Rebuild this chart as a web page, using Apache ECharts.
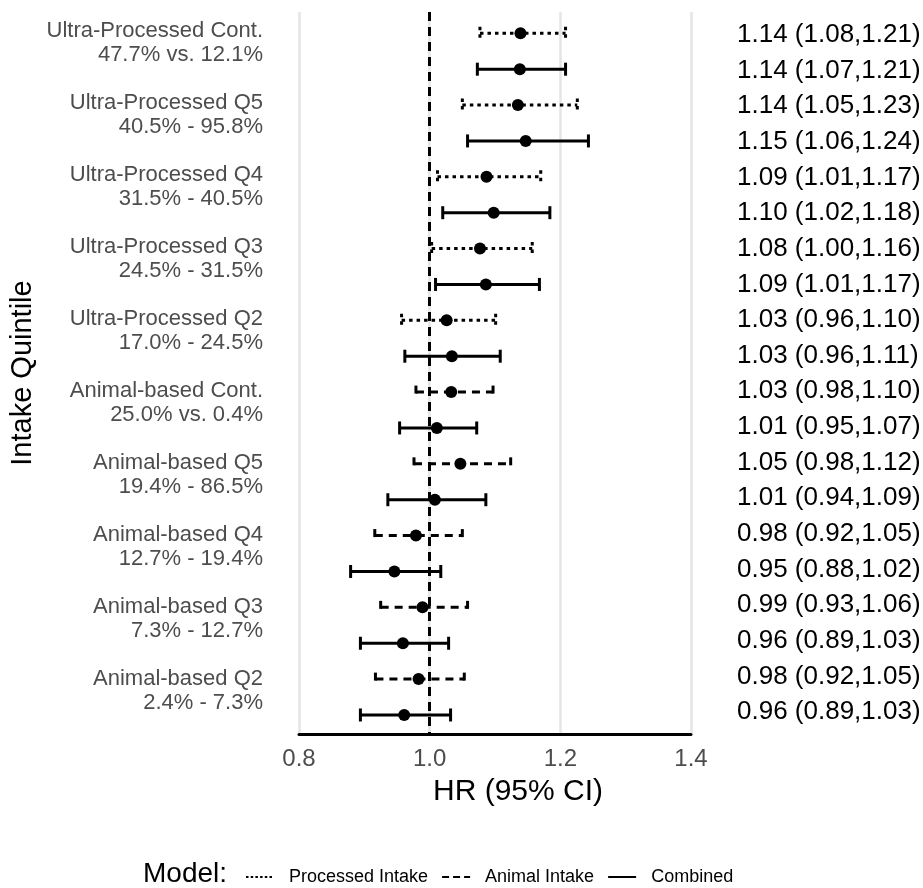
<!DOCTYPE html>
<html>
<head>
<meta charset="utf-8">
<script src="https://cdn.jsdelivr.net/npm/echarts@6/dist/echarts.min.js"></script>
<style>html,body{margin:0;padding:0;background:#fff}#c{width:923px;height:888px}</style>
</head>
<body>
<div id="c"></div>
<script>
// Category labels (left), one per quintile group
const categories = [
  'Ultra-Processed Cont.\n47.7% vs. 12.1%',
  'Ultra-Processed Q5\n40.5% - 95.8%',
  'Ultra-Processed Q4\n31.5% - 40.5%',
  'Ultra-Processed Q3\n24.5% - 31.5%',
  'Ultra-Processed Q2\n17.0% - 24.5%',
  'Animal-based Cont.\n25.0% vs. 0.4%',
  'Animal-based Q5\n19.4% - 86.5%',
  'Animal-based Q4\n12.7% - 19.4%',
  'Animal-based Q3\n7.3% - 12.7%',
  'Animal-based Q2\n2.4% - 7.3%'
];
// Row models (two rows per category, top to bottom)
const rowModels = [
  'Processed Intake','Combined','Processed Intake','Combined','Processed Intake','Combined',
  'Processed Intake','Combined','Processed Intake','Combined',
  'Animal Intake','Combined','Animal Intake','Combined','Animal Intake','Combined',
  'Animal Intake','Combined','Animal Intake','Combined'
];
// Hazard ratios and 95% CI bounds
const hr = [1.139,1.138,1.135,1.147,1.087,1.098,1.077,1.086,1.026,1.034,
            1.033,1.011,1.047,1.008,0.979,0.946,0.989,0.959,0.983,0.961];
const lo = [1.077,1.073,1.050,1.058,1.012,1.020,1.003,1.009,0.957,0.962,
            0.979,0.954,0.976,0.936,0.916,0.879,0.925,0.894,0.917,0.894];
const hi = [1.208,1.208,1.226,1.243,1.170,1.184,1.157,1.168,1.101,1.108,
            1.097,1.072,1.124,1.086,1.050,1.017,1.058,1.029,1.053,1.032];
// Right-hand text labels
const rowLabels = [
  '1.14 (1.08,1.21)','1.14 (1.07,1.21)','1.14 (1.05,1.23)','1.15 (1.06,1.24)',
  '1.09 (1.01,1.17)','1.10 (1.02,1.18)','1.08 (1.00,1.16)','1.09 (1.01,1.17)',
  '1.03 (0.96,1.10)','1.03 (0.96,1.11)','1.03 (0.98,1.10)','1.01 (0.95,1.07)',
  '1.05 (0.98,1.12)','1.01 (0.94,1.09)','0.98 (0.92,1.05)','0.95 (0.88,1.02)',
  '0.99 (0.93,1.06)','0.96 (0.89,1.03)','0.98 (0.92,1.05)','0.96 (0.89,1.03)'
];
const xTicks = [0.8, 1.0, 1.2, 1.4];
const modelNames = ['Processed Intake','Animal Intake','Combined'];

const FONT = 'Liberation Sans, Arial, sans-serif';
const dashPlot = {'Processed Intake':[3.5,4], 'Animal Intake':[8,6], 'Combined':null};
const dashLegend = {'Processed Intake':[2.5,2.2], 'Animal Intake':[7,4], 'Combined':'solid'};

function renderBar(dash){
  return function(params, api){
    const y = api.value(2);
    const p1 = api.coord([api.value(0), y]);
    const p2 = api.coord([api.value(1), y]);
    const h = 6.5;
    const st = () => ({stroke:'#000', lineWidth:3, lineDash:dash, fill:null, lineCap:'butt'});
    return {type:'group', children:[
      {type:'line', shape:{x1:p1[0],y1:p1[1],x2:p2[0],y2:p2[1]}, style:st()},
      {type:'line', shape:{x1:p1[0],y1:p1[1]-h,x2:p1[0],y2:p1[1]+h}, style:st()},
      {type:'line', shape:{x1:p2[0],y1:p2[1]-h,x2:p2[0],y2:p2[1]+h}, style:st()}
    ]};
  };
}

const series = [];
modelNames.forEach(m => {
  series.push({type:'line', name:m, data:[], symbol:'none', legendIcon:'none', xAxisIndex:0, yAxisIndex:0,
    lineStyle:{color:'#000', width:3, type:dashLegend[m]}, itemStyle:{color:'#000'}});
});
modelNames.forEach(m => {
  const d = [];
  rowModels.forEach((rm, i) => { if (rm === m) d.push([lo[i], hi[i], i]); });
  series.push({type:'custom', name:m, xAxisIndex:0, yAxisIndex:0, data:d,
    renderItem:renderBar(dashPlot[m]), encode:{x:[0,1], y:2}, z:3, silent:true});
});
series.push({
  type:'scatter', name:'HR', xAxisIndex:0, yAxisIndex:0, symbolSize:12, z:5,
  itemStyle:{color:'#000', opacity:1},
  data: hr.map((v,i)=>[v,i]),
  markLine:{symbol:'none', silent:true, label:{show:false},
    lineStyle:{color:'#000', width:3, type:[9,6], opacity:1},
    data:[{xAxis:1.0}], z:2}
});

const chart = echarts.init(document.getElementById('c'), null, {renderer:'canvas'});
chart.setOption({
  animation:false,
  backgroundColor:'#fff',
  title:[
    {text:'Model:', left:143, top:860, padding:0,
     textStyle:{fontFamily:FONT, fontSize:28, fontWeight:'normal', color:'#000'}},
    {text:'HR (95% CI)', left:518, top:777, padding:0, textAlign:'center',
     textStyle:{fontFamily:FONT, fontSize:30, fontWeight:'normal', color:'#000'}}
  ],
  legend:{
    data:modelNames, left:245, top:868, padding:0, itemWidth:28, itemHeight:14, itemGap:13,
    selectedMode:false,
    itemStyle:{opacity:0},
    textStyle:{fontFamily:FONT, fontSize:18, color:'#000', padding:[0,0,0,10]}
  },
  grid:[
    {left:299, right:232, top:12, bottom:154, outerBoundsMode:'none'},
    {left:299, right:232, top:7, height:720, outerBoundsMode:'none'},
    {left:299, right:232, top:17, height:713, outerBoundsMode:'none'}
  ],
  xAxis:[
    {gridIndex:0, type:'value', min:0.8, max:1.4, interval:0.2,
     axisLine:{show:true, onZero:false, lineStyle:{color:'#000', width:3}},
     axisTick:{show:false},
     axisLabel:{fontFamily:FONT, fontSize:24, color:'#4d4d4d', margin:13,
       formatter:v => xTicks.includes(Math.round(v*10)/10) ? v.toFixed(1) : ''},
     splitLine:{show:true, lineStyle:{color:'#e5e5e5', width:2.5}}},
    {gridIndex:1, type:'value', show:false},
    {gridIndex:2, type:'value', show:false}
  ],
  yAxis:[
    {gridIndex:0, type:'value', min:-0.594, max:19.53, inverse:true,
     axisLine:{show:false}, axisTick:{show:false}, axisLabel:{show:false}, splitLine:{show:false},
     name:'Intake Quintile', nameLocation:'middle', nameRotate:90, nameGap:262,
     nameTextStyle:{fontFamily:FONT, fontSize:29, color:'#000'}},
    {gridIndex:1, type:'category', data:categories, inverse:true, position:'left',
     axisLine:{show:false}, axisTick:{show:false}, splitLine:{show:false},
     axisLabel:{fontFamily:FONT, fontSize:22, lineHeight:24, color:'#4d4d4d', margin:36, align:'right'}},
    {gridIndex:2, type:'category', data:rowLabels, inverse:true, position:'right',
     axisLine:{show:false}, axisTick:{show:false}, splitLine:{show:false},
     axisLabel:{fontFamily:FONT, fontSize:26, color:'#000', margin:46, align:'left'}}
  ],
  series:series
});
</script>
</body>
</html>
